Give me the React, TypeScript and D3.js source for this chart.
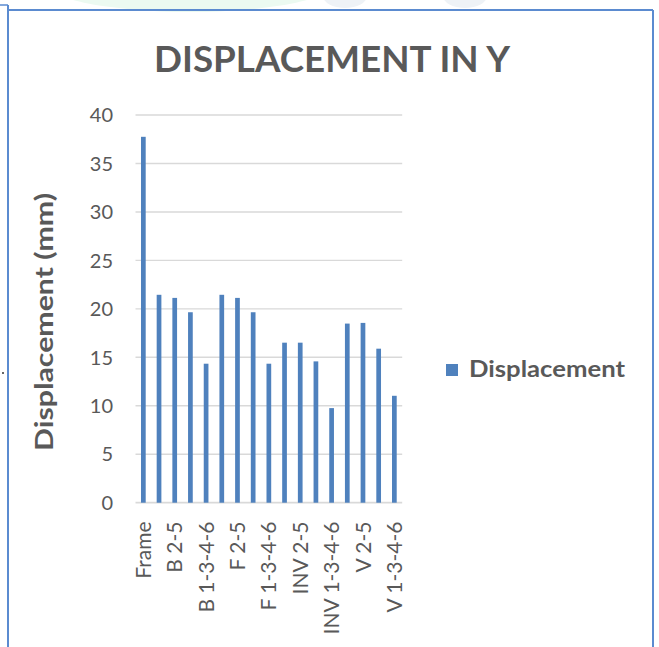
import React from "react";
import * as d3 from "d3";

const categories = [
  "Frame",
  "B 1-6", "B 2-5", "B 3-4", "B 1-3-4-6",
  "F 1-6", "F 2-5", "F 3-4", "F 1-3-4-6",
  "INV 1-6", "INV 2-5", "INV 3-4", "INV 1-3-4-6",
  "V 1-6", "V 2-5", "V 3-4", "V 1-3-4-6",
];
const values = [
  37.75,
  21.45, 21.13, 19.65, 14.34,
  21.45, 21.13, 19.65, 14.34,
  16.51, 16.51, 14.58, 9.76,
  18.48, 18.55, 15.89, 11.03,
];
const yTicks = [0, 5, 10, 15, 20, 25, 30, 35, 40];
const title = "DISPLACEMENT IN Y";
const yTitle = "Displacement (mm)";
const seriesName = "Displacement";

const W = 659;
const H = 647;
const FONT = "Lato, 'Open Sans', sans-serif";
const TEXT = "#595959";
const BAR = "#4F81BD";
const BORDER = "#5B8BD0";

export default function App() {
  const x = d3
    .scaleBand<string>()
    .domain(categories)
    .range([135.5, 402.2])
    .paddingInner(0.7)
    .paddingOuter(0.35);
  const y = d3.scaleLinear().domain([0, 40]).range([502.7, 115]);

  return (
    <svg
      width={W}
      height={H}
      style={{ position: "absolute", left: 0, top: 0, background: "#fff" }}
      fontFamily={FONT}
    >
      {/* faint watermark shapes at top */}
      <ellipse cx={190} cy={-20} rx={150} ry={32} fill="#ecfaf1" />
      <ellipse cx={345} cy={-4} rx={22} ry={12} fill="#eef2f6" />
      <ellipse cx={465} cy={-4} rx={22} ry={12} fill="#eef2f6" />

      {/* borders */}
      <line x1={0} x2={8} y1={5} y2={5} stroke={BORDER} strokeWidth={1.5} />
      <line x1={8} x2={8} y1={5} y2={H} stroke={BORDER} strokeWidth={2} />
      <line x1={8} x2={653} y1={10} y2={10} stroke={BORDER} strokeWidth={2} />
      <line x1={653} x2={653} y1={10} y2={H} stroke={BORDER} strokeWidth={2} />
      <circle cx={3} cy={373} r={1} fill="#333" />

      {/* title */}
      <text
        x={332}
        y={72}
        textAnchor="middle"
        fontSize={37}
        fontWeight={700}
        fill={TEXT}
        textLength={356}
        lengthAdjust="spacingAndGlyphs"
      >
        {title}
      </text>

      {/* gridlines */}
      {yTicks.map((t) => (
        <line
          key={t}
          x1={135.5}
          x2={402.2}
          y1={y(t)}
          y2={y(t)}
          stroke="#D9D9D9"
          strokeWidth={t === 0 ? 1.8 : 1.4}
        />
      ))}

      {/* y tick labels */}
      {yTicks.map((t) => (
        <text
          key={"l" + t}
          x={113}
          y={y(t)}
          dy="0.36em"
          textAnchor="end"
          fontSize={20}
          fill={TEXT}
        >
          {t}
        </text>
      ))}

      {/* bars */}
      {categories.map((c, i) => (
        <rect
          key={c}
          x={x(c)!}
          y={y(values[i])}
          width={x.bandwidth()}
          height={y(0) - y(values[i])}
          fill={BAR}
        />
      ))}

      {/* x labels (every other) */}
      {categories.map((c, i) =>
        i % 2 === 0 ? (
          <text
            key={"x" + c}
            transform={`translate(${x(c)! + x.bandwidth() / 2},${521.5}) rotate(-90)`}
            textAnchor="end"
            dy="0.36em"
            fontSize={21}
            fill={TEXT}
          >
            {c}
          </text>
        ) : null
      )}

      {/* y axis title */}
      <text
        transform={`translate(44,322) rotate(-90)`}
        textAnchor="middle"
        dy="0.36em"
        fontSize={24}
        fontWeight={700}
        fill={TEXT}
        textLength={258}
        lengthAdjust="spacingAndGlyphs"
      >
        {yTitle}
      </text>

      {/* legend */}
      <rect x={446} y={364} width={12} height={12} fill={BAR} />
      <text
        x={469}
        y={377}
        fontSize={22}
        fontWeight={700}
        fill={TEXT}
        textLength={156}
        lengthAdjust="spacingAndGlyphs"
      >
        {seriesName}
      </text>
    </svg>
  );
}
